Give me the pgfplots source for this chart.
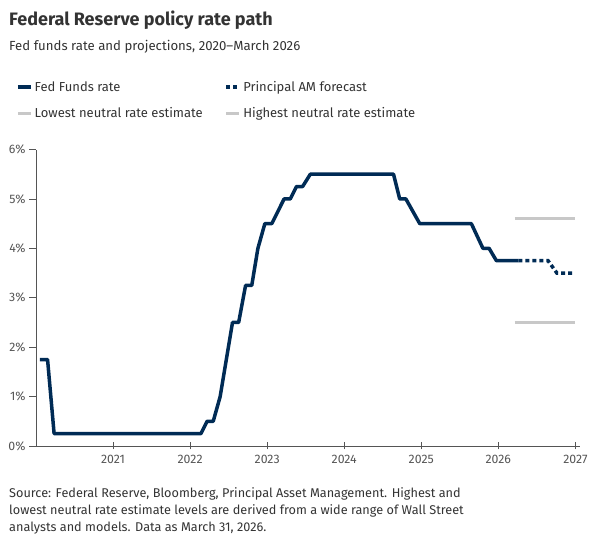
\documentclass[border=0pt]{standalone}
\usepackage{fontspec}
\setmainfont{Fira Sans}
\usepackage{pgfplots}
\pgfplotsset{compat=1.18}
\definecolor{navy}{HTML}{002B55}
\definecolor{neutral}{HTML}{C8C8C8}
\definecolor{txt}{HTML}{333333}
\definecolor{axisgrey}{HTML}{555555}
\begin{document}
\begin{tikzpicture}[x=1pt,y=1pt]
\useasboundingbox (-36,-105) rectangle (564,446);
\begin{axis}[
  at={(0,0)}, anchor=origin,
  scale only axis, width=544pt, height=296.5pt,
  xmin=2020, xmax=2027.06, ymin=0, ymax=6,
  axis x line=bottom, axis y line=left,
  axis line style={-, draw=axisgrey, line width=0.8pt},
  xtick={2021,2022,2023,2024,2025,2026,2027},
  xticklabels={2021,2022,2023,2024,2025,2026,2027},
  ytick={0,1,2,3,4,5,6},
  yticklabels={0\%,1\%,2\%,3\%,4\%,5\%,6\%},
  x tick style={draw=axisgrey, line width=0.8pt},
  y tick style={draw=axisgrey, line width=0.8pt},
  xtick align=center, ytick align=outside,
  major tick length=7pt,
  tick label style={font=\fontsize{12.3}{14}\selectfont, text=axisgrey},
  xticklabel style={yshift=-2pt},
  clip=false,
  legend columns=2,
  legend cell align=left,
  legend style={draw=none, fill=none, at={(-20pt,367pt)}, anchor=north west,
    font=\fontsize{13}{16}\selectfont, text=txt,
    /tikz/every even column/.append style={column sep=20pt},
    row sep=11pt, inner sep=0pt},
  legend image code/.code={\draw[#1] (0pt,0pt) -- (13pt,0pt);},
]
\addplot[navy, line width=3.5pt, line join=round] coordinates {
(2020.05,1.75) (2020.15,1.75) (2020.235,0.25) (2022.14,0.25) (2022.22,0.5)
(2022.30,0.5) (2022.39,1.0) (2022.55,2.5) (2022.63,2.5) (2022.72,3.25)
(2022.80,3.25) (2022.88,4.0) (2022.97,4.5) (2023.06,4.5) (2023.14,4.75)
(2023.22,5.0) (2023.30,5.0) (2023.38,5.25) (2023.46,5.25) (2023.56,5.5)
(2024.64,5.5) (2024.72,5.0) (2024.80,5.0) (2024.98,4.5) (2025.65,4.5)
(2025.80,4.0) (2025.88,4.0) (2025.975,3.75) (2026.26,3.75)
};
\addlegendentry{Fed Funds rate}
\addplot[navy, line width=3.5pt, dash pattern=on 4pt off 3pt] coordinates {
(2026.26,3.75) (2026.645,3.75) (2026.76,3.5) (2026.98,3.5)
};
\addlegendentry{Principal AM forecast}
\addplot[neutral, line width=2.5pt] coordinates {(2026.21,2.5) (2026.99,2.5)};
\addlegendentry{Lowest neutral rate estimate}
\addplot[neutral, line width=2.5pt] coordinates {(2026.21,4.6) (2026.99,4.6)};
\addlegendentry{Highest neutral rate estimate}
\end{axis}
\node[anchor=base west, inner sep=0pt, text=txt, font=\fontsize{18}{20}\selectfont\bfseries] at (-27,420) {Federal Reserve policy rate path};
\node[anchor=base west, inner sep=0pt, text=txt, font=\fontsize{13.2}{16}\selectfont] at (-27,395.5) {Fed funds rate and projections, 2020–March 2026};
\node[anchor=base west, inner sep=0pt, text=txt, font=\fontsize{12.7}{16}\selectfont] at (-27,-52) {Source: Federal Reserve, Bloomberg, Principal Asset Management. Highest and};
\node[anchor=base west, inner sep=0pt, text=txt, font=\fontsize{12.7}{16}\selectfont] at (-27,-69) {lowest neutral rate estimate levels are derived from a wide range of Wall Street};
\node[anchor=base west, inner sep=0pt, text=txt, font=\fontsize{12.7}{16}\selectfont] at (-27,-86) {analysts and models. Data as March 31, 2026.};
\end{tikzpicture}
\end{document}
